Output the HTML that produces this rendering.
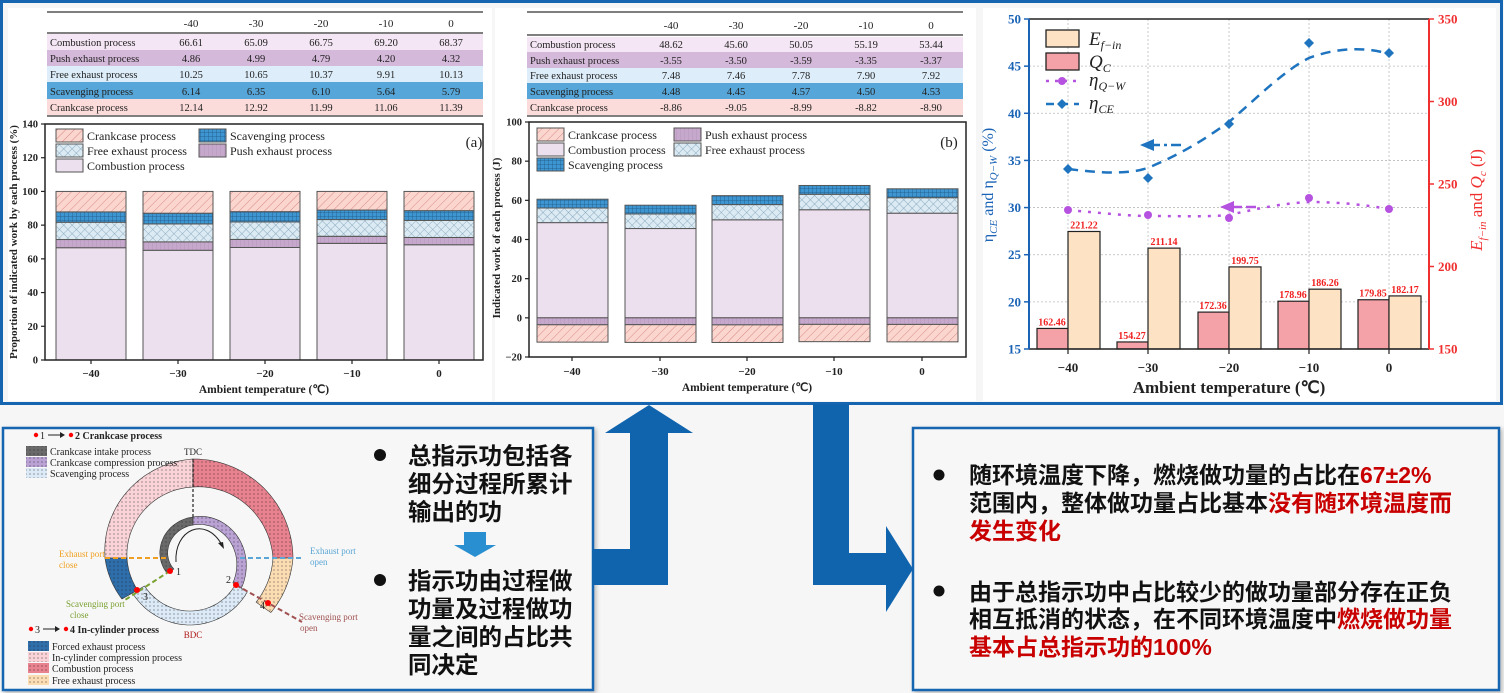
<!DOCTYPE html>
<html><head><meta charset="utf-8"><style>
html,body{margin:0;padding:0;background:#f6f6f6;}
svg{display:block;}
</style></head><body>
<svg id="s" xmlns="http://www.w3.org/2000/svg" width="1504" height="693" viewBox="0 0 1504 693">
<defs>
<pattern id="diag" width="6" height="6" patternUnits="userSpaceOnUse" patternTransform="rotate(45)"><rect width="6" height="6" fill="#fbd6cf"/><line x1="0" y1="0" x2="0" y2="6" stroke="#d88a86" stroke-width="1"/></pattern>
<pattern id="cross" width="6" height="6" patternUnits="userSpaceOnUse" patternTransform="rotate(45)"><rect width="6" height="6" fill="#dbeaf3"/><line x1="0" y1="0" x2="0" y2="6" stroke="#7a9db3" stroke-width="0.8"/><line x1="0" y1="0" x2="6" y2="0" stroke="#7a9db3" stroke-width="0.8"/></pattern>
<pattern id="grid" width="4" height="4" patternUnits="userSpaceOnUse"><rect width="4" height="4" fill="#3d96d2"/><line x1="0" y1="0" x2="0" y2="4" stroke="#1d4f7a" stroke-width="0.7"/><line x1="0" y1="0" x2="4" y2="0" stroke="#1d4f7a" stroke-width="0.7"/></pattern>
<pattern id="pgrid" width="4" height="4" patternUnits="userSpaceOnUse"><rect width="4" height="4" fill="#c6a8cc"/><line x1="0" y1="0" x2="0" y2="4" stroke="#a58aab" stroke-width="0.5"/></pattern>
<pattern id="dots" width="4" height="4" patternUnits="userSpaceOnUse"><circle cx="2" cy="2" r="0.55" fill="#222"/></pattern>
<filter id="sh" x="-5%" y="-5%" width="110%" height="110%"><feDropShadow dx="2" dy="2" stdDeviation="2" flood-color="#000" flood-opacity="0.25"/></filter>
</defs>
<g id="g"></g>
</svg>
<script>
var s='';
function R(x,y,w,h,f,st,sw,ex){s+='<rect x="'+x+'" y="'+y+'" width="'+w+'" height="'+h+'" fill="'+f+'"'+(st?' stroke="'+st+'" stroke-width="'+(sw||1)+'"':'')+(ex||'')+'/>';}
function L(x1,y1,x2,y2,st,sw,ex){s+='<line x1="'+x1+'" y1="'+y1+'" x2="'+x2+'" y2="'+y2+'" stroke="'+st+'" stroke-width="'+(sw||1)+'"'+(ex||'')+'/>';}
function T(x,y,t,o){o=o||{};s+='<text x="'+x+'" y="'+y+'" font-family="'+(o.ff||'Liberation Serif, serif')+'" font-size="'+(o.fs||10)+'" fill="'+(o.c||'#222')+'"'+(o.a?' text-anchor="'+o.a+'"':'')+(o.b?' font-weight="bold"':'')+(o.i?' font-style="italic"':'')+(o.tr?' transform="'+o.tr+'"':'')+'>'+t+'</text>';}
R(0,0,1504,693,'#f6f6f6');
R(8,8,484,393,'#fff');R(495,8,481,393,'#fff');R(983,8,513,393,'#fff');
R(1.5,1.5,1500,402,'none','#1565b0',3);

var rowc=['#f4e6f4','#d5b9da','#ddeefa','#56a6d9','#fcdcda'];
var rown=['Combustion process','Push exhaust process','Free exhaust process','Scavenging process','Crankcase process'];
var hdr=['-40','-30','-20','-10','0'];
var A=[[66.61,65.09,66.75,69.20,68.37],[4.86,4.99,4.79,4.20,4.32],[10.25,10.65,10.37,9.91,10.13],[6.14,6.35,6.10,5.64,5.79],[12.14,12.92,11.99,11.06,11.39]];
var B=[[48.62,45.60,50.05,55.19,53.44],[-3.55,-3.50,-3.59,-3.35,-3.37],[7.48,7.46,7.78,7.90,7.92],[4.48,4.45,4.57,4.50,4.53],[-8.86,-9.05,-8.99,-8.82,-8.90]];
function table(x0,x1,cols,ys,hy,hl,D){
 L(x0,12,x1,12,'#555',1.5);
 for(var i=0;i<5;i++)T(cols[i],hy,hdr[i],{a:'middle',fs:11});
 L(x0,hl,x1,hl,'#555',1.5);
 for(var r=0;r<5;r++){R(x0,ys[r],x1-x0,ys[r+1]-ys[r],rowc[r]);
  var by=ys[r+1]-4;T(x0+3,by,rown[r],{fs:10.5});
  for(var i=0;i<5;i++)T(cols[i],by,D[r][i].toFixed(2),{a:'middle',fs:10.5});}
 L(x0,ys[5]+1,x1,ys[5]+1,'#555',1.5);
}
table(47,483,[191,256,321,386,451],[34,50,66,82,99,115],27,33,A);
table(527,963,[671,736,801,866,931],[37,52,68,83,99,115],29,35,B);

var fills=['#ecdfee','url(#pgrid)','url(#cross)','url(#grid)','url(#diag)'];
function bar(x,w,y1,y2,f){R(x,Math.min(y1,y2),w,Math.abs(y2-y1),f,'#555',1);}
function ya(v){return 360-v*236/140;}
var ca=[91,178,265,352,439];
for(var i=0;i<5;i++){var acc=0;for(var r=0;r<5;r++){var v=A[r][i];bar(ca[i]-35,70,ya(acc),ya(acc+v),fills[r]);acc+=v;}}
R(45,124,438,236,'none','#222',1.5);
for(var v=0;v<=140;v+=20){L(41,ya(v),45,ya(v),'#222',1.2);T(38,ya(v)+3.5,v,{a:'end',b:1,fs:10.5});}
for(var i=0;i<5;i++){L(ca[i],360,ca[i],364,'#222',1.2);T(ca[i],377,hdr[i].replace('-','−'),{a:'middle',b:1,fs:11});}
T(264,393,'Ambient temperature (℃)',{a:'middle',b:1,fs:11.5});
T(0,0,'Proportion of indicated work by each process (%)',{a:'middle',b:1,fs:11,tr:'translate(17,242) rotate(-90)'});
T(474,147,'(a)',{a:'middle',fs:15});
function lg(x,y,f,t){R(x,y,27,13,f,'#555',1);T(x+31,y+11,t,{fs:12});}
lg(56,129,fills[4],'Crankcase process');lg(56,144,fills[2],'Free exhaust process');lg(56,159,fills[0],'Combustion process');
lg(199,129,fills[3],'Scavenging process');lg(199,144,fills[1],'Push exhaust process');
function yb(v){return 357-(v+20)*235/120;}
var cb=[572,660,747,834,922];
for(var i=0;i<5;i++){
 var c=B[0][i],p=B[1][i],f=B[2][i],sc=B[3][i],k=B[4][i];
 bar(cb[i]-35,71,yb(0),yb(c),fills[0]);bar(cb[i]-35,71,yb(c),yb(c+f),fills[2]);bar(cb[i]-35,71,yb(c+f),yb(c+f+sc),fills[3]);
 bar(cb[i]-35,71,yb(0),yb(p),fills[1]);bar(cb[i]-35,71,yb(p),yb(p+k),fills[4]);}
R(529,122,437,235,'none','#222',1.5);
for(var v=-20;v<=100;v+=20){L(525,yb(v),529,yb(v),'#222',1.2);T(522,yb(v)+3.5,v<0?'−20':v,{a:'end',b:1,fs:10.5});}
for(var i=0;i<5;i++){L(cb[i],357,cb[i],361,'#222',1.2);T(cb[i],375,hdr[i].replace('-','−'),{a:'middle',b:1,fs:11});}
T(747,391,'Ambient temperature (℃)',{a:'middle',b:1,fs:11.5});
T(0,0,'Indicated work of each process (J)',{a:'middle',b:1,fs:11,tr:'translate(500,238) rotate(-90)'});
T(949,147,'(b)',{a:'middle',fs:15});
lg(537,128,fills[4],'Crankcase process');lg(537,143,fills[0],'Combustion process');lg(537,158,fills[3],'Scavenging process');
lg(674,128,fills[1],'Push exhaust process');lg(674,143,fills[2],'Free exhaust process');

function yl(v){return 19+(50-v)*330/35;}
function yr(v){return 19+(350-v)*1.65;}
var cc=[1068,1148,1229,1309,1389];
for(var v=15;v<=50;v+=5)L(1029,yl(v),1429,yl(v),'#bbb',0.8,' stroke-dasharray="2,2"');
for(var i=0;i<5;i++)L(cc[i],19,cc[i],349,'#bbb',0.8,' stroke-dasharray="2,2"');
var Q=[162.46,154.27,172.36,178.96,179.85],E=[221.22,211.14,199.75,186.26,182.17];
for(var i=0;i<5;i++){
 R(cc[i]-31,yr(Q[i]),31,349-yr(Q[i]),'#f4a1a7','#222',1.2);
 R(cc[i],yr(E[i]),32,349-yr(E[i]),'#fde2c4','#222',1.2);
 T(cc[i]-16,yr(Q[i])-3,Q[i].toFixed(2),{a:'middle',b:1,fs:10,c:'#f02020'});
 T(cc[i]+16,yr(E[i])-3,E[i].toFixed(2),{a:'middle',b:1,fs:10,c:'#f02020'});}
L(1029,19,1429,19,'#222',1.5);L(1029,349,1429,349,'#222',1.5);
L(1029,19,1029,349,'#1a63b5',2);L(1429,19,1429,349,'#f03030',2);
for(var v=15;v<=50;v+=5){L(1024,yl(v),1029,yl(v),'#1a63b5',1.5);T(1021,yl(v)+4.5,v,{a:'end',b:1,fs:13,c:'#1a63b5'});}
for(var v=150;v<=350;v+=50){L(1429,yr(v),1434,yr(v),'#f03030',1.5);T(1438,yr(v)+4.5,v,{b:1,fs:13,c:'#f03030'});}
for(var i=0;i<5;i++){L(cc[i],349,cc[i],354,'#222',1.2);T(cc[i],372,hdr[i].replace('-','−'),{a:'middle',b:1,fs:13});}
T(1229,393,'Ambient temperature (℃)',{a:'middle',b:1,fs:17});
s+='<path d="M1068,169 C1100,173 1130,175 1150,167 C1190,150 1210,135 1229,122 C1260,95 1285,70 1309,58 C1330,50 1360,45 1389,54" fill="none" stroke="#1f74c0" stroke-width="2.5" stroke-dasharray="10,7"/>';
s+='<path d="M1068,210 C1100,213 1130,216 1148,216 C1180,216 1210,217 1229,215 C1260,208 1285,203 1309,202 C1340,202 1365,205 1389,209" fill="none" stroke="#b652e0" stroke-width="2.5" stroke-dasharray="3,7"/>';
var ce=[169,178,124,43,53],qw=[210,215,218,198,209];
for(var i=0;i<5;i++){var x=cc[i],y=ce[i];s+='<path d="M'+x+','+(y-5)+' L'+(x+5)+','+y+' L'+x+','+(y+5)+' L'+(x-5)+','+y+'Z" fill="#1f74c0"/>';s+='<circle cx="'+x+'" cy="'+qw[i]+'" r="4" fill="#b652e0"/>';}
L(1150,145,1182,145,'#1f74c0',2.5,' stroke-dasharray="10,4,3,4"');s+='<path d="M1140,145 L1154,139 L1154,151Z" fill="#1f74c0"/>';
L(1232,207,1258,207,'#b652e0',2.5,' stroke-dasharray="10,4"');s+='<path d="M1220,207 L1234,201 L1234,213Z" fill="#b652e0"/>';
R(1046,30,33,17,'#fde2c4','#222',1.3);R(1046,53,33,17,'#f4a1a7','#222',1.3);
T(1089,45,'E<tspan font-size="12" dy="4">f−in</tspan>',{i:1,fs:19});
T(1089,68,'Q<tspan font-size="12" dy="4">C</tspan>',{i:1,fs:19});
L(1046,81,1079,81,'#b652e0',2.5,' stroke-dasharray="3,6"');s+='<circle cx="1062" cy="81" r="4" fill="#b652e0"/>';
L(1046,104,1079,104,'#1f74c0',2.5,' stroke-dasharray="8,6"');s+='<path d="M1062,99 L1067,104 L1062,109 L1057,104Z" fill="#1f74c0"/>';
T(1089,86,'η<tspan font-size="12" dy="4">Q−W</tspan>',{i:1,fs:19});
T(1089,109,'η<tspan font-size="12" dy="4">CE</tspan>',{i:1,fs:19});
T(0,0,'η<tspan font-size="11" dy="4" font-style="italic">CE</tspan><tspan dy="-4"> and η</tspan><tspan font-size="11" dy="4" font-style="italic">Q−W</tspan><tspan dy="-4"> (%)</tspan>',{a:'middle',fs:16,c:'#1a63b5',tr:'translate(993,185) rotate(-90)'});
T(0,0,'<tspan font-style="italic">E</tspan><tspan font-size="11" dy="4" font-style="italic">f−in</tspan><tspan dy="-4"> and </tspan><tspan font-style="italic">Q</tspan><tspan font-size="11" dy="4" font-style="italic">c</tspan><tspan dy="-4"> (J)</tspan>',{a:'middle',fs:17,c:'#f03030',tr:'translate(1482,200) rotate(-90)'});

R(3,428,590,262,'#f7f7f7','#1565b0',2.5,' filter="url(#sh)"');
R(913,428,586,262,'#f7f7f7','#1565b0',2.5,' filter="url(#sh)"');
s+='<polygon points="592,549 630,549 630,433 605,433 649,405 693,433 668,433 668,585 592,585" fill="#1064ad"/>';
s+='<polygon points="813,404 849,404 849,553 886,553 886,526 913,569 886,612 886,585 813,585" fill="#1064ad"/>';

var cx=193,cy=558;
function P(a,r){var t=a*Math.PI/180;return (cx+r*Math.cos(t)).toFixed(1)+','+(cy-r*Math.sin(t)).toFixed(1);}
function band(a0,a1,ro0,ro1,ri0,ri1,f){var n=30,d='M';
 for(var k=0;k<=n;k++){var u=k/n;d+=(k?' L':'')+P(a0+(a1-a0)*u,ro0+(ro1-ro0)*u);}
 for(var k=n;k>=0;k--){var u=k/n;d+=' L'+P(a0+(a1-a0)*u,ri0+(ri1-ri0)*u);}
 d+='Z';s+='<path d="'+d+'" fill="'+f+'"/><path d="'+d+'" fill="url(#dots)" stroke="#333" stroke-width="0.6"/>';}
band(180,90,88,99,66,71,'#f9d3d7');
band(90,0,99,100,71,80,'#e8828f');
band(0,-35,100,95,80,77,'#fcdcb2');
band(180,210,88,82,66,64,'#2e6eab');
band(210,328,70,64,56,50,'#dceaf7');
band(210,90,30,41,22,33,'#6a6a6a');
band(90,-32,41,57,33,47,'#baa2d4');
s+='<path d="M176,562 C174,530 205,515 222,545" fill="none" stroke="#222" stroke-width="1"/><path d="M224,549 L218,543 L223,542Z" fill="#222"/>';
L(193,459,193,517,'#222',1.2,' stroke-dasharray="3,2"');
L(105,558,168,558,'#f0a020',2,' stroke-dasharray="5,3"');
L(240,558,302,558,'#5aa6d6',2,' stroke-dasharray="5,3"');
L(170,571,125,600,'#7aa030',2,' stroke-dasharray="5,3"');
L(236,585,302,622,'#a05050',2,' stroke-dasharray="5,3"');
[[170,571],[236,585],[137,590],[268,603]].forEach(function(p){s+='<circle cx="'+p[0]+'" cy="'+p[1]+'" r="3" fill="#f00"/>';});
T(176,575,'1',{fs:10});T(226,583,'2',{fs:10});T(143,600,'3',{fs:10});T(260,609,'4',{fs:10});
T(193,455,'TDC',{a:'middle',fs:9});T(193,638,'BDC',{a:'middle',fs:9,c:'#b01818'});
T(59,557,'Exhaust port',{fs:9,c:'#f0a020'});T(59,568,'close',{fs:9,c:'#f0a020'});
T(310,554,'Exhaust port',{fs:9,c:'#5aa6d6'});T(310,565,'open',{fs:9,c:'#5aa6d6'});
T(66,607,'Scavenging port',{fs:9,c:'#7aa030'});T(70,618,'close',{fs:9,c:'#7aa030'});
T(299,620,'Scavenging port',{fs:9,c:'#a05050'});T(300,631,'open',{fs:9,c:'#a05050'});
function pl(y,f,t,x){R(x,y,21,10,f);R(x,y,21,10,'url(#dots)');T(x+24,y+9,t,{fs:10});}
s+='<circle cx="36" cy="435" r="2.2" fill="#f00"/><circle cx="71" cy="435" r="2.2" fill="#f00"/>';
T(40,439,'1',{fs:10});L(48,435,62,435,'#222',1);s+='<path d="M65,435 L60,432 L60,438Z" fill="#222"/>';T(75,439,'2  Crankcase process',{fs:10,b:1});
pl(446,'#6a6a6a','Crankcase intake process',26);pl(457,'#baa2d4','Crankcase compression process',26);pl(468,'#dceaf7','Scavenging process',26);
s+='<circle cx="31" cy="629" r="2.2" fill="#f00"/><circle cx="66" cy="629" r="2.2" fill="#f00"/>';
T(35,633,'3',{fs:10});L(43,629,57,629,'#222',1);s+='<path d="M60,629 L55,626 L55,632Z" fill="#222"/>';T(70,633,'4  In-cylinder process',{fs:10,b:1});
pl(641,'#2e6eab','Forced exhaust process',28);pl(652,'#f9d3d7','In-cylinder compression process',28);pl(663,'#e8828f','Combustion process',28);pl(675,'#fcdcb2','Free exhaust process',28);

var cf='Liberation Sans, Noto Sans CJK SC, sans-serif';
s+='<circle cx="380" cy="455" r="6" fill="#111"/><circle cx="380" cy="580" r="6" fill="#111"/>';
var lt=['总指示功包括各','细分过程所累计','输出的功'],ly=[464,492,520];
for(var i=0;i<3;i++)T(408,ly[i],lt[i],{ff:cf,fs:23.5,b:1,c:'#111'});
var lt2=['指示功由过程做','功量及过程做功','量之间的占比共','同决定'],ly2=[589,617,645,673];
for(var i=0;i<4;i++)T(408,ly2[i],lt2[i],{ff:cf,fs:23.5,b:1,c:'#111'});
s+='<polygon points="464,532 486,532 486,545 496,545 475,557 454,545 464,545" fill="#2a8fd0"/>';
s+='<circle cx="939" cy="475" r="5.5" fill="#111"/><circle cx="939" cy="591" r="5.5" fill="#111"/>';
var red='#c80000';
function RT(y,parts){var h='';parts.forEach(function(p){h+='<tspan fill="'+(p[1]?red:'#111')+'">'+p[0]+'</tspan>';});T(969,y,h,{ff:cf,fs:23,b:1});}
RT(483,[['随环境温度下降，燃烧做功量的占比在'],['67±2%',1]]);
RT(511,[['范围内，整体做功量占比基本'],['没有随环境温度而',1]]);
RT(539,[['发生变化',1]]);
RT(600,[['由于总指示功中占比较少的做功量部分存在正负']]);
RT(627,[['相互抵消的状态，在不同环境温度中'],['燃烧做功量',1]]);
RT(655,[['基本占总指示功的100%',1]]);
document.getElementById('g').innerHTML=s;
</script>
</body></html>
